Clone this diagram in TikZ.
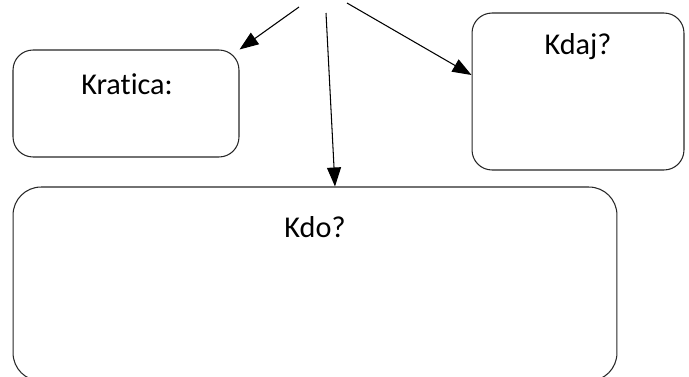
\documentclass[tikz,border=0pt]{standalone}
\usepackage{fontspec}
\setmainfont{Carlito}[Ligatures=NoCommon]
\usepackage{tikz}
\usetikzlibrary{arrows.meta}

\begin{document}
\begin{tikzpicture}[
  x=0.02cm, y=-0.02cm,
  box/.style={draw=black!85, line width=0.6pt, minimum width=#1},
  txt/.style={font=\fontsize{17.2}{20}\selectfont, inner sep=0pt},
  arrow/.style={-{Triangle[length=3.8mm,width=2.8mm]}, line width=0.6pt}
]
\clip (0,0) rectangle (689,376);
\node[box=4.52cm, minimum height=2.14cm, rounded corners=0.4cm] (kratica) at (126,103.5) {};
\node[box=4.24cm, minimum height=3.14cm, rounded corners=0.4cm] (kdaj) at (578,91.5) {};
\node[box=12.08cm, minimum height=3.88cm, rounded corners=0.56cm] (kdo) at (315,284) {};
\node[txt] (kraticatxt) at (127,84) {Kratica:};
\node[txt] (kdajtxt) at (578,47) {Kdaj?};
\node[txt] (kdotxt) at (315,227) {Kdo?};
\coordinate (s1) at (299,7);
\coordinate (s2) at (326,13);
\coordinate (s3) at (347,3);
\draw[arrow] (s1) -- (kratica.north east);
\draw[arrow] (s2) -- ([xshift=0.4cm]kdo.north);
\draw[arrow] (s3) -- ([yshift=0.33cm]kdaj.west);
\end{tikzpicture}
\end{document}
